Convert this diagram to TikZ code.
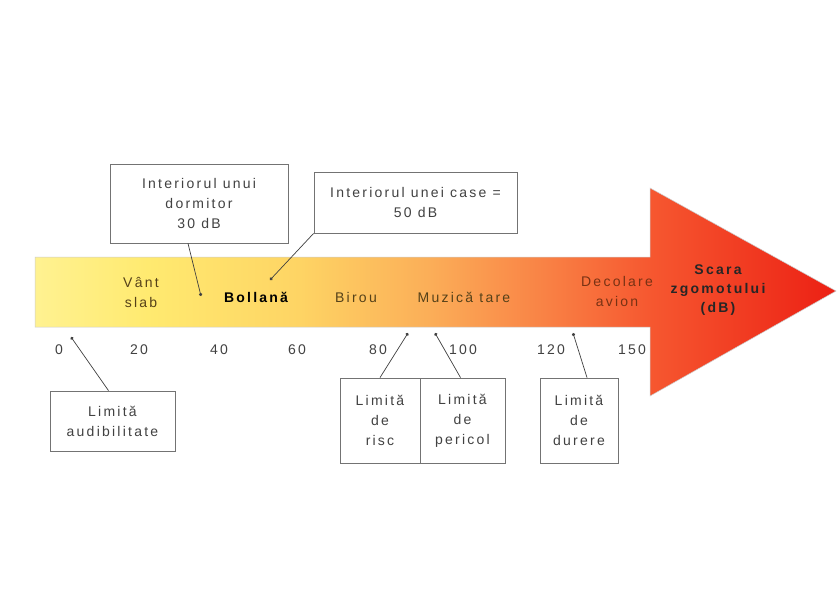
\documentclass[tikz,border=0pt]{standalone}
\usepackage{fontspec}
\setmainfont{Liberation Sans}[LetterSpace=16]
\usepackage{tikz}
\usetikzlibrary{arrows.meta}

\definecolor{boxtext}{RGB}{65,65,65}
\definecolor{boxline}{RGB}{115,115,115}
\definecolor{bartext}{RGB}{85,65,25}
\definecolor{hottext}{RGB}{120,50,20}
\definecolor{ylwA}{RGB}{255,242,145}
\definecolor{ylwB}{RGB}{255,234,112}
\definecolor{ylwC}{RGB}{254,212,100}
\definecolor{orngA}{RGB}{251,174,88}
\definecolor{orngB}{RGB}{249,128,68}
\definecolor{redA}{RGB}{246,88,48}
\definecolor{redB}{RGB}{236,32,20}

\pgfdeclarehorizontalshading{noisescale}{100bp}{color(0bp)=(ylwA); color(25bp)=(ylwA); color(32bp)=(ylwB); color(41.5bp)=(ylwC); color(49.6bp)=(orngA); color(57.1bp)=(orngB); color(63.3bp)=(redA); color(75bp)=(redB); color(100bp)=(redB)}

\tikzset{
    lbox/.style={draw=boxline, line width=0.8pt, fill=white, text=boxtext, align=center, inner sep=0pt},
    lbl/.style={text=bartext, align=center},
    tick/.style={text=boxtext},
    ptr/.style={draw=black!75, line width=0.7pt, -{Circle[length=3.2pt]}}
}

\begin{document}
\begin{tikzpicture}[x=1pt, y=-1pt, font=\fontsize{14}{20}\selectfont]
    \useasboundingbox[fill=white] (0,0) rectangle (837,603);

    % the arrow
    \shade[shading=noisescale, draw=black!20, line width=0.5pt]
        (35,257) -- (650,257) -- (650,188) -- (836,291) -- (650,396) -- (650,327) -- (35,327) -- cycle;

    \node[lbl] (vant) at (141,292) {Vânt\\slab};
    \node[lbl, text=black, font=\fontsize{14}{20}\selectfont\bfseries] (boll) at (256,297) {Bollană};
    \node[lbl] (birou) at (356,297) {Birou};
    \node[lbl] (muzica) at (464,297) {Muzică tare};
    \node[lbl, text=hottext] (decol) at (617,291) {Decolare\\avion};
    \node[lbl, text=black!85, font=\fontsize{14}{19}\selectfont\bfseries] (scara) at (718,290) {Scara\\zgomotului\\(dB)};

    \foreach \v/\x in {0/59,20/139,40/219,60/297,80/378,100/463,120/551,150/632} {
            \node[tick] (t\v) at (\x,350) {\v};
        }

    % boxes above
    \node[lbox, minimum width=178pt, minimum height=79pt] (dorm) at (199,203.5) {Interiorul unui\\dormitor\\30 dB};
    \node[lbox, minimum width=203pt, minimum height=61pt] (casa) at (415.5,202.5) {Interiorul unei case =\\50 dB};

    % boxes below
    \node[lbox, minimum width=125pt, minimum height=60pt] (aud) at (112.5,421) {Limită\\audibilitate};
    \node[lbox, minimum width=80pt, minimum height=85pt] (risc) at (380,420.5) {Limită\\de\\risc};
    \node[lbox, minimum width=85pt, minimum height=85pt] (peric) at (462.5,420.5) {Limită\\de\\pericol};
    \node[lbox, minimum width=78pt, minimum height=85pt] (durere) at (579,420.5) {Limită\\de\\durere};

    \coordinate (pdorm) at (201,296);
    \coordinate (pcasa) at (270,280);
    \coordinate (paud) at (71,337);
    \coordinate (prisc) at (408,333);
    \coordinate (pperic) at (435,333);
    \coordinate (pdurere) at (573,333);

    \draw[ptr] ([xshift=-11pt]dorm.south) -- (pdorm);
    \draw[ptr] (casa.south west) -- (pcasa);
    \draw[ptr] ([xshift=-4pt]aud.north) -- (paud);
    \draw[ptr] (risc.north) -- (prisc);
    \draw[ptr] ([xshift=-2pt]peric.north) -- (pperic);
    \draw[ptr] ([xshift=8pt]durere.north) -- (pdurere);

\end{tikzpicture}
\end{document}
